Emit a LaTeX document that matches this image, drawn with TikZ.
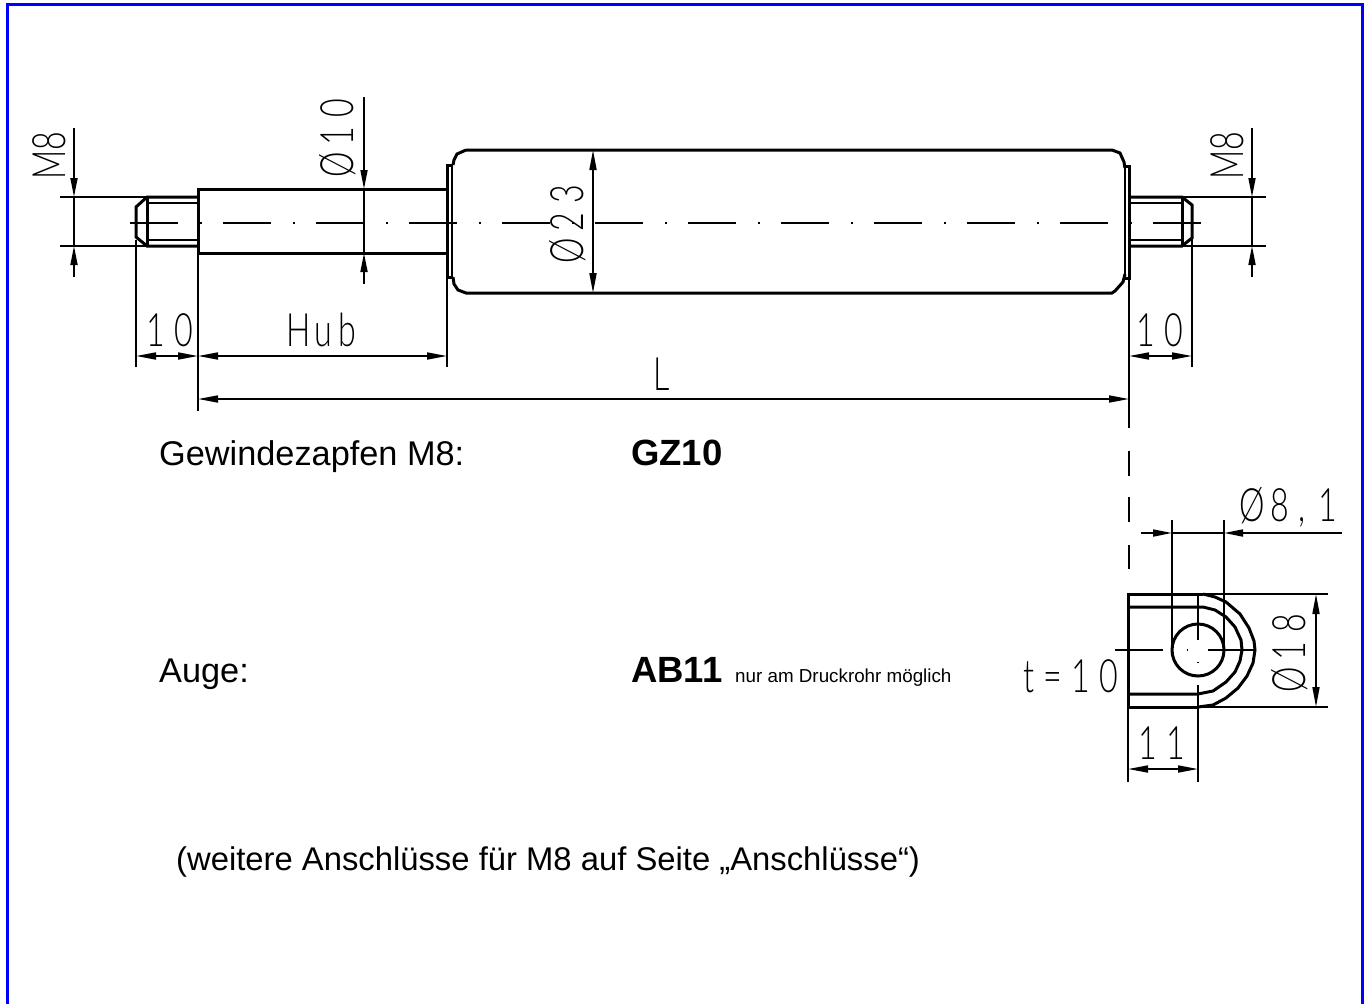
\documentclass[tikz,border=0pt]{standalone}
\usepackage{fontspec}
\setmainfont{Liberation Sans}
\newfontfamily\cadfont[FakeStretch=0.7]{Lato Light}
\usetikzlibrary{arrows.meta}
\definecolor{frameblue}{RGB}{0,0,255}
\newcommand{\dia}{Ø\kern6pt }
\newcommand{\gp}{\kern10pt }
\tikzset{
  x=1pt,y=-1pt,
  heavy line/.style={line width=3pt,line join=miter,black},
  mid line/.style={line width=2pt,black},
  fine line/.style={line width=1.7pt,black},
  center line/.style={line width=1.8pt,black,dash pattern=on 48pt off 22pt on 2pt off 21pt},
  dim/.style={fine line,{Triangle[length=20pt,width=7pt]}-{Triangle[length=20pt,width=7pt]}},
  tipin/.style={fine line,-{Triangle[length=19pt,width=7pt]}},
  lbl/.style={inner sep=0pt,anchor=base west,font=\fontsize{34.3}{34}\selectfont},
  bold lbl/.style={lbl,font=\fontsize{36.5}{36}\selectfont\bfseries},
  cad/.style={inner sep=0pt,black,font=\fontsize{46}{46}\cadfont},
}
\begin{document}
\begin{tikzpicture}
\useasboundingbox (0,0) rectangle (1367,1004);
\fill[white] (0,0) rectangle (1367,1004);
% frame
\draw[frameblue,line width=3pt] (7.5,1004) -- (7.5,4.5) -- (1362.5,4.5) -- (1362.5,1004);
% centre line
\draw[center line] (130,223) -- (1202,223);
% left stud
\draw[heavy line] (198,197) -- (147,197) -- (136,207) -- (136,237) -- (147,246) -- (198,246);
\draw[heavy line] (147,197) -- (147,246);
\draw[mid line] (147,203) -- (198,203) (147,240) -- (198,240);
% rod
\draw[heavy line] (198,189) rectangle (447,253);
% left flange
\draw[heavy line] (452,165) -- (447,165) -- (447,277) -- (452,277);
\draw[mid line] (452,165) -- (452,277);
% body
\draw[heavy line] (466,150) -- (1112,150) -- (1120,153) -- (1124,162) -- (1125,168)
  (1125,274) -- (1123,282) -- (1115,291) -- (1112,293) -- (466,293) -- (458,290) -- (454,284) -- (453,277)
  (453,165) -- (454,160) -- (457,154) -- (466,150);
% right flange
\draw[heavy line] (1125,166) -- (1129,166) -- (1129,278) -- (1125,278);
\draw[mid line] (1125,166) -- (1125,278);
% right stud
\draw[heavy line] (1129,197) -- (1182,197) -- (1192,205) -- (1192,238) -- (1182,246) -- (1129,246);
\draw[heavy line] (1182,197) -- (1182,246);
\draw[mid line] (1129,203) -- (1182,203) (1129,240) -- (1182,240);
% extension lines
\draw[fine line] (60,197) -- (147,197) (60,246) -- (147,246);
\draw[fine line] (136,240) -- (136,367);
\draw[fine line] (198,253) -- (198,411);
\draw[fine line] (447,277) -- (447,367);
\draw[fine line] (1182,197) -- (1266,197) (1182,246) -- (1266,246);
\draw[fine line] (1192,238) -- (1192,367);
\draw[fine line] (1128.7,278) -- (1128.7,428);
\draw[fine line] (1128.7,451) -- (1128.7,476) (1128.7,497) -- (1128.7,522) (1128.7,545) -- (1128.7,569);
% dimension lines
\draw[tipin] (74,128) -- (74,197);
\draw[tipin] (74,277) -- (74,246);
\draw[fine line] (74,197) -- (74,246);
\draw[tipin] (1252,128) -- (1252,197);
\draw[tipin] (1252,277) -- (1252,246);
\draw[fine line] (1252,197) -- (1252,246);
\draw[tipin] (364,97) -- (364,189);
\draw[tipin] (364,284) -- (364,253);
\draw[fine line] (364,189) -- (364,253);
\draw[dim] (593,150) -- (593,293);
\draw[dim] (136,356) -- (198,356);
\draw[dim] (198,356) -- (447,356);
\draw[dim] (1129,356) -- (1192,356);
\draw[dim] (198,399) -- (1129,399);
% eye
\draw[heavy line] (1203,594) -- (1128,594) -- (1128,707) -- (1198,707);
\draw[heavy line] (1203,594) -- (1215,597) -- (1226,602) -- (1240,614) -- (1249,628) -- (1254,641) -- (1255,650)
   -- (1253,663) -- (1247,676) -- (1238,688) -- (1226,698) -- (1213,705) -- (1198,707);
\draw[heavy line] (1128,607) -- (1203,607) -- (1215,610) -- (1226,617) -- (1235,627) -- (1241,640) -- (1242,650)
   -- (1240,661) -- (1235,672) -- (1226,682) -- (1213,691) -- (1198,694) -- (1128,694);
\draw[heavy line] (1198,650) circle[radius=26];
\draw[fine line] (1172,520) -- (1172,650) (1224,520) -- (1224,650);
\draw[fine line] (1203,594) -- (1328,594) (1198,707) -- (1328,707);
\draw[fine line] (1198,594) -- (1198,640) (1198,661.5) -- (1198,662.5) (1198,685) -- (1198,782);
\draw[fine line] (1115,650) -- (1163,650) (1186.5,650) -- (1188,650) (1208,650) -- (1255,650);
\draw[fine line] (1128,707) -- (1128,782);
\draw[dim] (1316,594) -- (1316,707);
\draw[dim] (1128,769) -- (1198,769);
\draw[tipin] (1141,533) -- (1172,533);
\draw[tipin] (1342,533) -- (1224,533);
\draw[fine line] (1172,533) -- (1224,533);
% CAD labels
\node[cad,rotate=90] (m8l) at (49,156) {M\kern0pt 8};
\node[cad,rotate=90] (m8r) at (1227,156) {M\kern0pt 8};
\node[cad,rotate=90] (d10) at (338,138) {\dia 1\gp 0};
\node[cad,rotate=90] (d23) at (568,224) {\dia 2\gp 3};
\node[cad] (ten1) at (170,330) {1\gp 0};
\node[cad] (hub) at (321,330) {H\kern4pt u\kern6pt b};
\node[cad] (len) at (662,374) {L};
\node[cad] (ten2) at (1160,330) {1\gp 0};
\node[cad] (d81) at (1288,507) {\dia 8\kern9pt ,\kern13pt 1};
\node[cad,rotate=90] (d18) at (1290,653) {\dia 1\gp 8};
\node[cad] (t10) at (1071,676) {\spaceskip=9pt\relax t = 1\gp 0};
\node[cad] (eleven) at (1162,743) {1\gp 1};
% texts
\node[lbl] (gew) at (159,465) {Gewindezapfen M8:};
\node[bold lbl] (gz) at (631,465) {GZ10};
\node[lbl] (auge) at (159,682) {Auge:};
\node[bold lbl] (ab) at (631,682) {AB11};
\node[lbl,font=\fontsize{18.8}{19}\selectfont] (nur) at (735,682) {nur am Druckrohr möglich};
\node[lbl,font=\fontsize{32.8}{33}\selectfont] (weit) at (176,870) {(weitere Anschlüsse für M8 auf Seite „Anschlüsse“)};
\end{tikzpicture}
\end{document}
